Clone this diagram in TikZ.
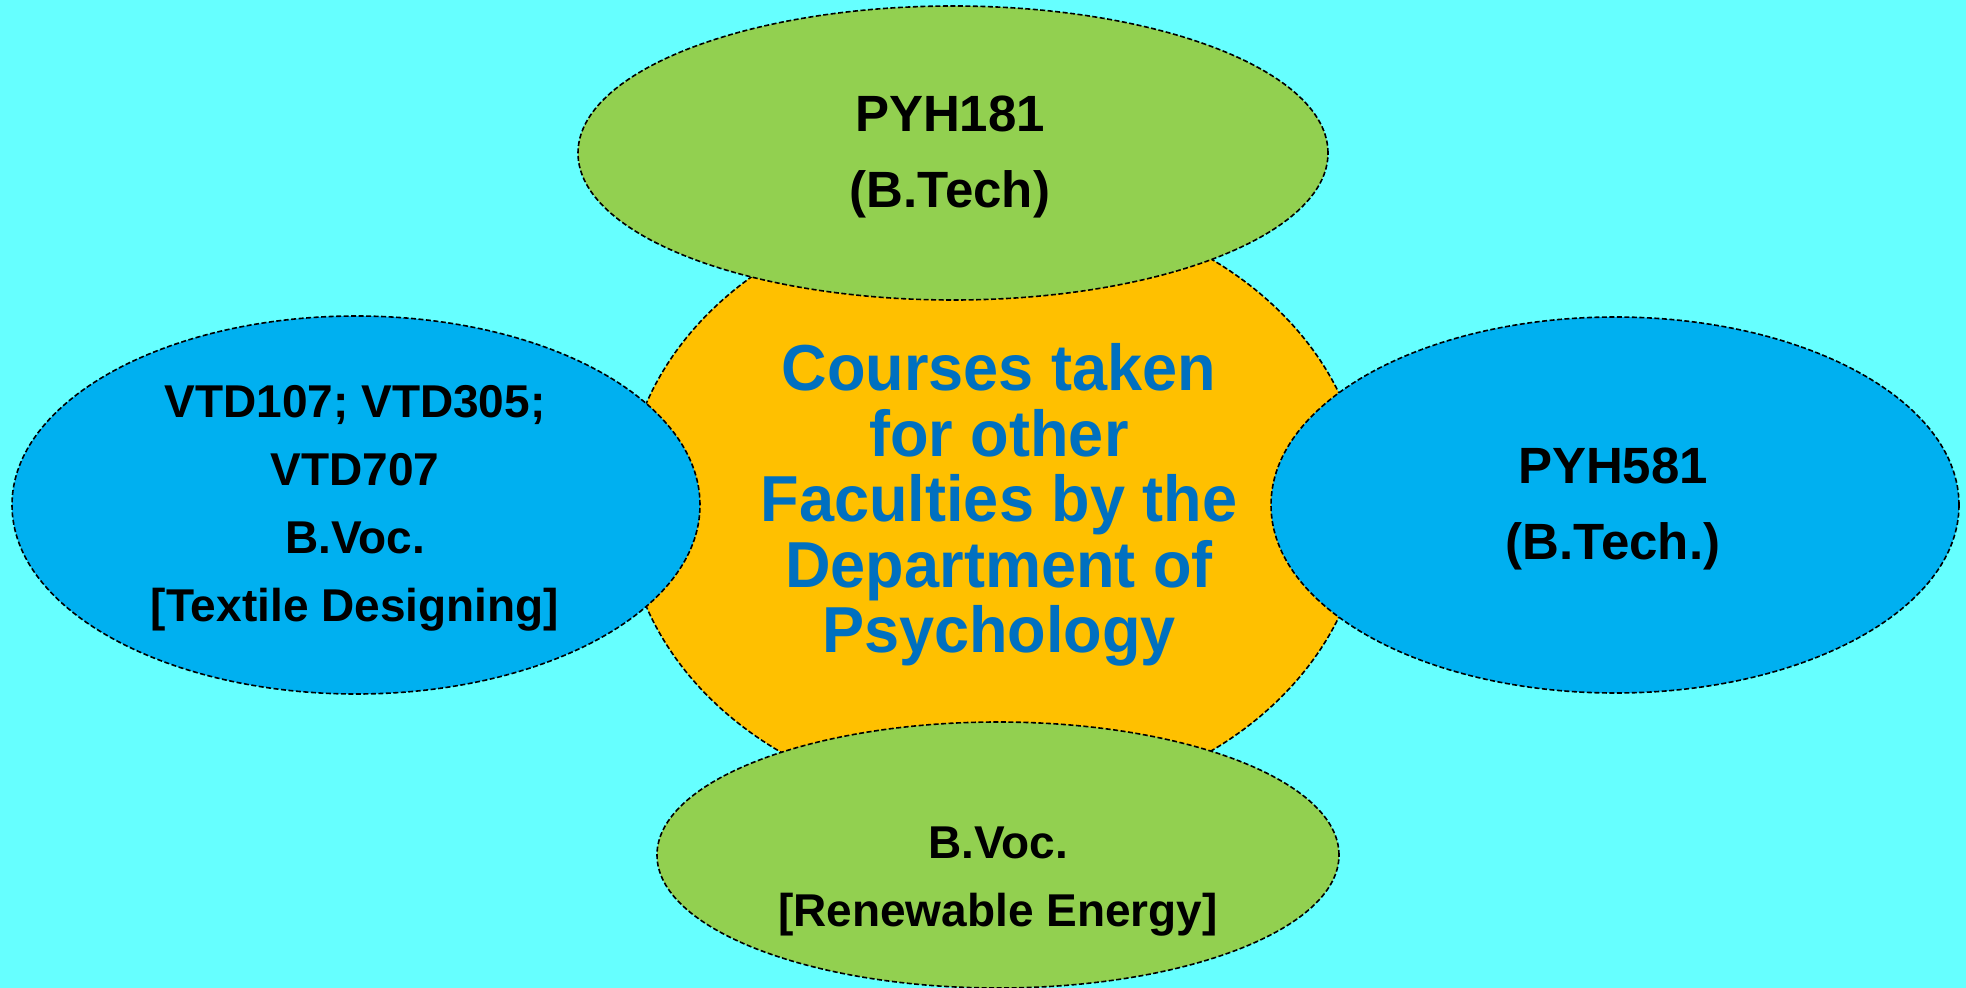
\documentclass[tikz,border=0pt]{standalone}
\usepackage{fontspec}
\setmainfont{Liberation Sans}
\newfontfamily\hubfont[FakeStretch=0.97]{Liberation Sans}
\usetikzlibrary{shapes.geometric}
\definecolor{bgcyan}{HTML}{66FFFF}
\definecolor{leafgreen}{HTML}{92D050}
\definecolor{skyblue}{HTML}{00B0F0}
\definecolor{amber}{HTML}{FFC000}
\definecolor{deepblue}{HTML}{0070C0}
\tikzset{
  bubble/.style={ellipse, draw=black, line width=1.6pt, dash pattern=on 5pt off 2.5pt, inner sep=0pt},
  bigtext/.style={align=center, font=\bfseries\fontsize{51}{76}\selectfont, text=black},
  smalltext/.style={align=center, font=\bfseries\fontsize{46}{68}\selectfont, text=black},
  hubtext/.style={align=center, font=\hubfont\bfseries\fontsize{65}{65.5}\selectfont, text=deepblue},
}
\begin{document}
\begin{tikzpicture}[x=1pt,y=-1pt]
\fill[bgcyan] (0,0) rectangle (1966,988);
\useasboundingbox (0,0) rectangle (1966,988);
% hub
\node[bubble, fill=amber, minimum width=740pt, minimum height=606pt] (hub) at (995,505) {};
% satellites
\node[bubble, fill=leafgreen, minimum width=750pt, minimum height=294pt] (top) at (953,153) {};
\node[bubble, fill=skyblue, minimum width=688pt, minimum height=378pt] (left) at (356,505) {};
\node[bubble, fill=skyblue, minimum width=688pt, minimum height=376pt] (right) at (1615,505) {};
\node[bubble, fill=leafgreen, minimum width=682pt, minimum height=266pt] (bottom) at (998,855) {};
% texts
\node[hubtext] (hubt) at (999,505) {Courses taken\\for other\\Faculties by the\\Department of\\Psychology};
\node[bigtext] (topt) at (950,157) {PYH181\\(B.Tech)};
\node[bigtext] (rightt) at (1613,509) {PYH581\\(B.Tech.)};
\node[smalltext] (leftt) at (355,508) {VTD107; VTD305;\\VTD707\\B.Voc.\\{[Textile Designing]}};
\node[smalltext] (bottomt) at (998,882) {B.Voc.\\{[Renewable Energy]}};
\end{tikzpicture}
\end{document}
